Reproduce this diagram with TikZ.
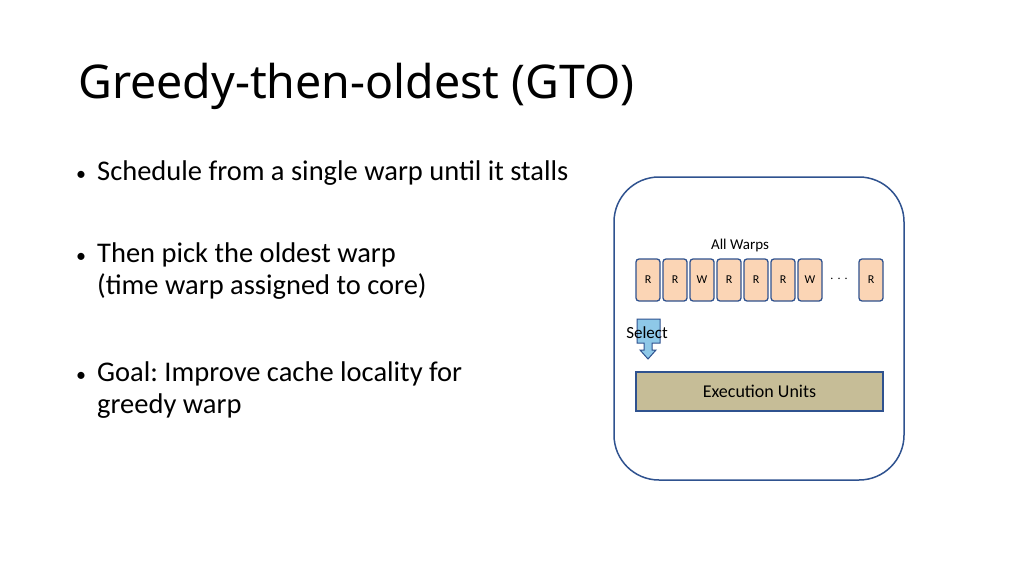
\documentclass[tikz,border=0pt]{standalone}
\usepackage{fontspec}
\setmainfont{Carlito}
\newfontfamily\titlefont{Noto Sans}
\definecolor{frameblue}{RGB}{47,82,143}
\definecolor{warpfill}{RGB}{251,213,181}
\definecolor{execfill}{RGB}{198,189,151}
\definecolor{selfill}{RGB}{142,200,232}
\newcommand{\bul}{\makebox[21pt][l]{\fontsize{20}{20}\selectfont\textbullet}}
\tikzset{
  warp/.style={draw=frameblue, fill=warpfill, rounded corners=3pt, line width=1.3pt,
    minimum width=24pt, minimum height=42pt, inner sep=0pt, font=\fontsize{12}{14}\selectfont},
  bullet/.style={anchor=north west, align=left, inner sep=0pt, font=\fontsize{28.5}{32}\selectfont}
}
\frenchspacing
\begin{document}
\begin{tikzpicture}[x=1pt,y=-1pt]
  \useasboundingbox[fill=white] (0,0) rectangle (1024,575);
  \node[anchor=west, inner sep=0pt, font=\titlefont\fontsize{46.5}{52}\selectfont] (title) at (78,86) {Greedy-then-oldest (GTO)};
  \node[anchor=west, inner sep=0pt, font=\fontsize{28.5}{32}\selectfont] (b1) at (76,173) {\bul Schedule from a single warp until it stalls};
  \node[bullet] (b2) at (76,243) {\bul Then pick the oldest warp\\\hspace*{21pt}(time warp assigned to core)};
  \node[bullet] (b3) at (76,362) {\bul Goal: Improve cache locality for\\\hspace*{21pt}greedy warp};
  % core frame
  \node[draw=frameblue, line width=1.5pt, rounded corners=45pt, minimum width=290pt, minimum height=303pt] (core) at (759,328.5) {};
  \node[font=\fontsize{15}{17}\selectfont] (all) at (740,245) {All Warps};
  \foreach \i/\l in {0/R,1/R,2/W,3/R,4/R,5/R,6/W}
    \node[warp] (w\i) at (648+27*\i,280) {\l};
  \node[font=\fontsize{14}{16}\selectfont] (dots) at (839,279) {$\cdot\cdot\cdot$};
  \node[warp] (wn) at (871,280) {R};
  % selection
  \coordinate (selbase) at (648,319);
  \draw[frameblue, fill=selfill, line width=1pt] (selbase) ++(-11,0) -- ++(23,0) -- ++(0,24) -- ++(-8,0)
    -- ++(0,7) -- ++(4,0) -- ++(-8,9) -- ++(-8,-9) -- ++(4,0) -- ++(0,-7) -- ++(-7,0) -- cycle;
  \node[font=\fontsize{17}{19}\selectfont] (seltext) at (647,333) {Select};
  \node[draw=frameblue, fill=execfill, line width=1.3pt, minimum width=247pt, minimum height=39pt,
    font=\fontsize{18}{21}\selectfont] (exec) at (759.5,391.5) {Execution Units};
\end{tikzpicture}
\end{document}
